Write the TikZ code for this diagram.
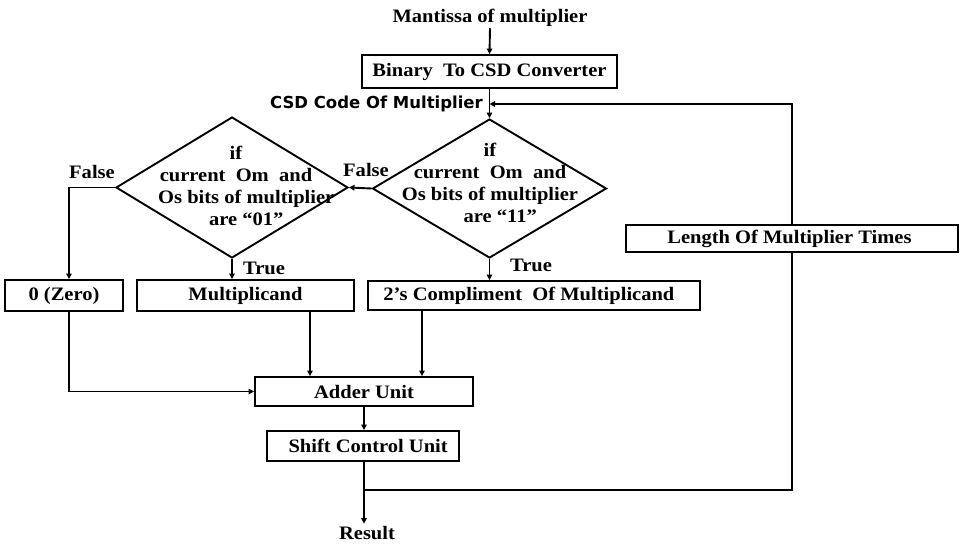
\documentclass[tikz,border=0pt]{standalone}
\usepackage{fontspec}
\setmainfont{Liberation Serif}[FakeStretch=1.08]
\newfontfamily\csdfont{DejaVu Sans}
\usetikzlibrary{shapes.geometric,arrows.meta}
\begin{document}
\begin{tikzpicture}[x=1pt,y=-1pt,
  every node/.style={font=\fontsize{19}{22}\selectfont\bfseries},
  box/.style={draw, line width=1.9pt, rectangle, inner sep=0pt},
  dia/.style={diamond, draw, line width=1.9pt, inner sep=0pt},
  conn/.style={line width=1.9pt},
  arr/.style={conn, -{Triangle[length=5.5pt,width=5.5pt]}},
  lbl/.style={inner sep=1pt}
]
\useasboundingbox (0,0) rectangle (963,552);

% boxes
\node[anchor=base, inner sep=2pt] (mant) at (490,22) {Mantissa of multiplier};
\node[box, minimum width=255pt, minimum height=33pt] (bin) at (489.5,71.5) {Binary\ \ To CSD Converter};
\node[anchor=base east, inner sep=0pt, font=\csdfont\fontsize{16.5}{18}\selectfont\bfseries] (csd) at (483,108.5) {CSD Code Of Multiplier};

\node[dia, minimum width=234pt, minimum height=139pt] (d2) at (489.5,188.5) {};
\node[align=center] (t2) at (490,183) {if\\current\ \ Om\ \ and\\Os bits\ of multiplier\\\ \ \ \ are “11”};
\node[dia, minimum width=232pt, minimum height=141pt] (d1) at (232,187.5) {};
\node[align=center] (t1) at (236,186) {if\\current\ \ Om\ \ and\\\ \ \ \ Os bits\ of multiplier\\\ \ \ \ are “01”};

\node[box, minimum width=118pt, minimum height=31pt] (zero) at (64,295.5) {0 (Zero)};
\node[box, minimum width=217pt, minimum height=31pt] (mult) at (245.5,295.5) {Multiplicand};
\node[box, minimum width=332pt, minimum height=29pt] (comp) at (534,295.5) {2’s Compliment\ \ Of Multiplicand\ \ \ };
\node[box, minimum width=218pt, minimum height=29pt] (adder) at (364,391.5) {Adder\ Unit};
\node[box, minimum width=192pt, minimum height=30pt] (shift) at (363,446) {\ \ Shift\ Control\ Unit};
\node[box, minimum width=332pt, minimum height=27pt] (len) at (792,238.5) {Length\ Of Multiplier\ Times\ \ };
\node[anchor=base, inner sep=2pt] (res) at (367,539) {Result};

% labels
\node[lbl] (f1) at (92,172) {False};
\node[lbl] (f2) at (366,170) {False};
\node[lbl] (tr1) at (264,268) {True};
\node[lbl] (tr2) at (531,265) {True};

% helper coordinates
\coordinate (fby) at (0,104);
\coordinate (zx) at (69,0);
\coordinate (mx) at (310,0);
\coordinate (cx) at (422,0);
\coordinate (shx) at (364,0);
\coordinate (j) at (364,490);

% connectors
\draw[arr] (mant.south) -- (bin.north);
\draw[arr] (bin.south) -- (d2.north);
\draw[arr] (len.north) |- (bin.south |- fby);
\draw[arr] (d2.west) -- (d1.east);
\draw[arr] (d1.west) -| (zero.north -| zx);
\draw[arr] (d1.south) -- (d1.south |- mult.north);
\draw[arr] (d2.south) -- (d2.south |- comp.north);
\draw[arr] (mult.south -| mx) -- (adder.north -| mx);
\draw[arr] (comp.south -| cx) -- (adder.north -| cx);
\draw[arr] (zero.south -| zx) |- (adder.west);
\draw[arr] (adder.south -| shx) -- (shift.north -| shx);
\draw[arr] (shift.south -| shx) -- (res.north -| shx);
\draw[conn] (j) -| (len.south);
\end{tikzpicture}
\end{document}
